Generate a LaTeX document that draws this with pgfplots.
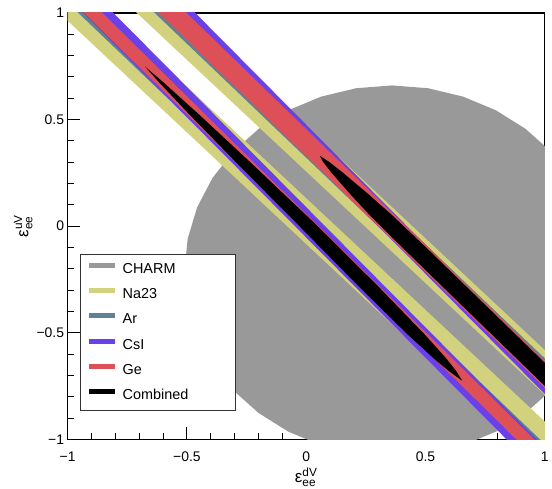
\documentclass[border=0pt]{standalone}
\usepackage{pgfplots}
\pgfplotsset{compat=1.18}
\usepackage{amsmath}
\usepackage{fontspec}
\setmainfont{Liberation Sans}
\definecolor{charm}{HTML}{999999}
\definecolor{na}{HTML}{D2D27E}
\definecolor{ar}{HTML}{5F8196}
\definecolor{csi}{HTML}{6A40E8}
\definecolor{ge}{HTML}{DE5058}
\begin{document}
\begin{tikzpicture}
\begin{axis}[name=ax, scale only axis, width=480pt, height=429pt,
  xmin=-1, xmax=1, ymin=-1, ymax=1,
  axis line style={line width=1.3pt},
  xtick={-1,-0.5,0,0.5,1}, ytick={-1,-0.5,0,0.5,1},
  xticklabels={−1,−0.5,0,0.5,1}, yticklabels={−1,−0.5,0,0.5,1},
  minor tick num=4,
  tick align=inside, xtick pos=left, ytick pos=left,
  major tick length=12pt, minor tick length=6pt,
  every tick/.style={black, line width=0.9pt},
  tick label style={font=\fontsize{14}{14}\selectfont},
  xticklabel style={yshift=-9pt},
  xlabel={\fontsize{17}{17}\selectfont $\text{ε}^{\text{dV}}_{\text{ee}}$},
  ylabel={\fontsize{17}{17}\selectfont $\text{ε}^{\text{uV}}_{\text{ee}}$},
  xlabel style={at={(axis description cs:0.5,-0.0653)}, anchor=north, inner sep=0pt},
  ylabel style={at={(axis description cs:-0.0729,0.5)}, anchor=south, inner sep=0pt},
  legend style={at={(axis description cs:0.025,0.4336)}, anchor=north west,
    draw=black!80, line width=0.8pt, fill=white,
    font=\fontsize{14.5}{14.5}\selectfont,
    nodes={text height=11pt, text depth=3pt, inner sep=0pt},
    row sep=11.4pt, column sep=5pt, inner xsep=7pt, inner ysep=7.5pt},
  legend cell align=left,
  legend image code/.code={\draw[line width=5pt] (0pt,4pt) -- (26pt,4pt);},
]
% CHARM
\addplot[fill=charm, draw=none, forget plot] coordinates {
(1.23,-0.21)(1.2168,-0.059)(1.1775,0.0875)(1.1134,0.225)(1.0264,0.3492)(0.9192,0.4564)
(0.795,0.5434)(0.6575,0.6075)(0.511,0.6468)(0.36,0.66)(0.209,0.6468)(0.0625,0.6075)
(-0.075,0.5434)(-0.1992,0.4564)(-0.3064,0.3492)(-0.3934,0.225)(-0.4575,0.0875)(-0.4968,-0.059)
(-0.51,-0.21)(-0.4968,-0.361)(-0.4575,-0.5075)(-0.3934,-0.645)(-0.3064,-0.7692)(-0.1992,-0.8764)
(-0.075,-0.9634)(0.0625,-1.0275)(0.209,-1.0668)(0.36,-1.08)(0.511,-1.0668)(0.6575,-1.0275)
(0.795,-0.9634)(0.9192,-0.8764)(1.0264,-0.7692)(1.1134,-0.645)(1.1775,-0.5075)(1.2168,-0.361)
} -- cycle;
% Na23
\addplot[fill=na, draw=none, forget plot] coordinates {(-1.1305,1.1)(-0.9255,1.1)(1.1755,-1.1)(0.9705,-1.1)} -- cycle;
\addplot[fill=na, draw=none, forget plot] coordinates {(-0.8055,1.1)(-0.6055,1.1)(1.4955,-1.1)(1.2955,-1.1)} -- cycle;
% Ar
\addplot[fill=ar, draw=none, forget plot] coordinates {(-1.0485,1.1)(-0.9835,1.1)(1.0735,-1.1)(1.0085,-1.1)} -- cycle;
\addplot[fill=ar, draw=none, forget plot] coordinates {(-0.7285,1.1)(-0.6085,1.1)(1.4485,-1.1)(1.3285,-1.1)} -- cycle;
% CsI
\addplot[fill=csi, draw=none, forget plot] coordinates {(-1.0227,1.1)(-0.8967,1.1)(1.0547,-1.1)(0.9287,-1.1)} -- cycle;
\addplot[fill=csi, draw=none, forget plot] coordinates {(-0.6737,1.1)(-0.5537,1.1)(1.3977,-1.1)(1.2777,-1.1)} -- cycle;
% Ge
\addplot[fill=ge, draw=none, forget plot] coordinates {(-1.0205,1.1)(-0.9445,1.1)(1.0465,-1.1)(0.9705,-1.1)} -- cycle;
\addplot[fill=ge, draw=none, forget plot] coordinates {(-0.7094,1.1)(-0.5934,1.1)(1.4306,-1.1)(1.3146,-1.1)} -- cycle;
% Combined
\addplot[fill=black, draw=none, forget plot] coordinates {
(-0.675,0.748)(-0.5986,0.6744)(-0.4527,0.5271)(-0.2402,0.3061)(0.0375,0.0115)(0.3024,-0.2831)
(0.4936,-0.5041)(0.5882,-0.6219)(0.6296,-0.6809)(0.654,-0.725)
(0.5996,-0.6809)(0.5362,-0.6219)(0.4216,-0.5041)(0.2204,-0.2831)(-0.0385,0.0115)(-0.3002,0.3061)
(-0.4927,0.5271)(-0.6166,0.6744)} -- cycle;
\addplot[fill=black, draw=none, forget plot] coordinates {
(0.057,0.33)(0.0976,0.3)(0.1546,0.25)(0.2606,0.15)(0.3616,0.05)(0.5026,-0.1)(1.4226,-1.1)
(1.3226,-1.1)(0.4026,-0.1)(0.2676,0.05)(0.1846,0.15)(0.1066,0.25)(0.0716,0.3)} -- cycle;
% legend
\addlegendimage{charm}\addlegendentry{CHARM}
\addlegendimage{na}\addlegendentry{Na23}
\addlegendimage{ar}\addlegendentry{Ar}
\addlegendimage{csi}\addlegendentry{CsI}
\addlegendimage{ge}\addlegendentry{Ge}
\addlegendimage{black}\addlegendentry{\makebox[106pt][l]{Combined}}
\end{axis}
\path ([shift={(-68pt,-49pt)}]ax.south west) rectangle ([shift={(4pt,13pt)}]ax.north east);
\end{tikzpicture}
\end{document}
